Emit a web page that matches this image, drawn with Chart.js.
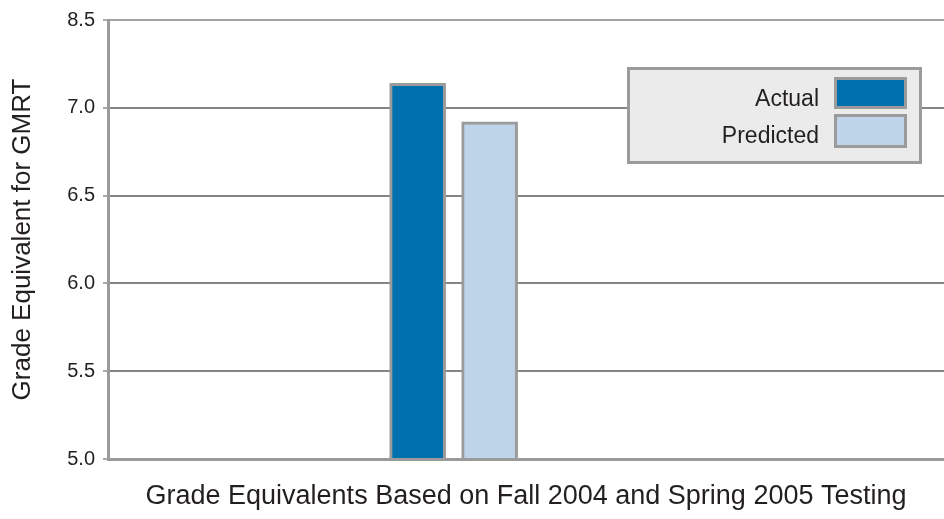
<!DOCTYPE html>
<html>
<head>
<meta charset="utf-8">
<script src="https://cdn.jsdelivr.net/npm/chart.js@4/dist/chart.umd.min.js"></script>
<style>
  html, body { margin: 0; padding: 0; background: #ffffff; }
  #wrap { width: 944px; height: 519px; }
</style>
</head>
<body>
<div id="wrap"><canvas id="c" width="944" height="519"></canvas></div>
<script>
// Series shown in the chart
const seriesNames = ['Actual', 'Predicted'];
const seriesValues = [7.14, 6.92];
const seriesColors = ['#0070ae', '#bed4e8'];

// Value axis ticks and the labels printed beside them
const yTickValues = [5.0, 5.5, 6.0, 6.5, 7.0, 7.5];
const yTickLabels = ['5.0', '5.5', '6.0', '6.5', '7.0', '8.5'];

// Axis titles
const xTitle = 'Grade Equivalents Based on Fall 2004 and Spring 2005 Testing';
const yTitle = 'Grade Equivalent for GMRT';

const FONT = "'Liberation Sans', Arial, Helvetica, sans-serif";
const TEXT = '#231f20';
const FRAME = '#9b9b9b';

// Boxed legend inside the plot, labels on the left of the swatches
const legendPanel = {
  id: 'legendPanel',
  afterDraw(chart) {
    const ctx = chart.ctx;
    const area = chart.chartArea;
    const bx = area.right - 317, by = area.top + 47, bw = 295, bh = 97;
    ctx.save();
    ctx.fillStyle = '#ebebeb';
    ctx.fillRect(bx, by, bw, bh);
    ctx.lineWidth = 3;
    ctx.strokeStyle = FRAME;
    ctx.strokeRect(bx + 1.5, by + 1.5, bw - 3, bh - 3);
    ctx.font = '23px ' + FONT;
    ctx.textAlign = 'right';
    ctx.textBaseline = 'alphabetic';
    chart.data.datasets.forEach((ds, i) => {
      const sy = by + 10 + i * 37;
      const sh = 32 + i * 2;
      ctx.fillStyle = ds.backgroundColor;
      ctx.fillRect(bx + 207, sy, 73, sh);
      ctx.strokeStyle = FRAME;
      ctx.lineWidth = 3;
      ctx.strokeRect(bx + 208.5, sy + 1.5, 70, sh - 3);
      ctx.fillStyle = TEXT;
      ctx.fillText(ds.label, bx + 192, sy + 29);
    });
    ctx.restore();
  }
};

const datasets = seriesNames.map((name, i) => ({
  label: name,
  data: [{ x: i, y: seriesValues[i] }],
  backgroundColor: seriesColors[i],
  borderColor: FRAME,
  borderWidth: 3,
  borderSkipped: false,
  barThickness: 56,
  grouped: false
}));

new Chart(document.getElementById('c'), {
  type: 'bar',
  data: { datasets },
  plugins: [legendPanel],
  options: {
    responsive: false,
    animation: false,
    devicePixelRatio: 1,
    layout: { padding: { top: 19, right: 0, bottom: 0, left: 0 } },
    plugins: {
      legend: { display: false },
      tooltip: { enabled: false }
    },
    scales: {
      x: {
        type: 'linear',
        offset: false,
        min: -4.3,
        max: 7.31,
        ticks: { display: false },
        grid: { display: false },
        border: { display: true, color: FRAME, width: 3, z: 1 },
        title: {
          display: true,
          text: xTitle,
          color: TEXT,
          font: { family: FONT, size: 27 },
          padding: { top: 0, bottom: 6 }
        },
        afterFit(scale) { scale.height = 60; }
      },
      y: {
        min: 5,
        max: 7.5,
        ticks: {
          stepSize: 0.5,
          color: TEXT,
          font: { family: FONT, size: 20 },
          padding: 8,
          callback(v) {
            const k = yTickValues.findIndex(t => Math.abs(t - v) < 1e-6);
            return k >= 0 ? yTickLabels[k] : '';
          }
        },
        grid: {
          color: (c) => (c.tick && c.tick.value === 7.5) ? '#a2a2a2' : '#858585',
          lineWidth: 2,
          tickLength: 5,
          tickColor: '#555555',
          tickWidth: 1
        },
        border: { display: true, color: FRAME, width: 3 },
        title: {
          display: true,
          text: yTitle,
          color: TEXT,
          font: { family: FONT, size: 26 },
          padding: { top: 7, bottom: 0 }
        },
        afterFit(scale) { scale.width = 108; }
      }
    }
  }
});
</script>
</body>
</html>
